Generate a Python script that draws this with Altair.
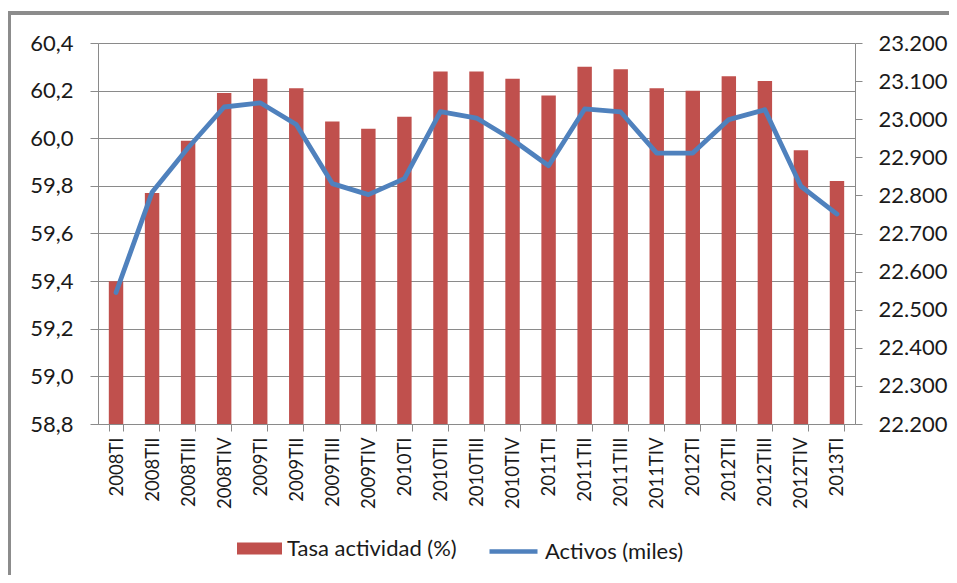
import altair as alt
import pandas as pd

periodos = ["2008TI", "2008TII", "2008TIII", "2008TIV",
            "2009TI", "2009TII", "2009TIII", "2009TIV",
            "2010TI", "2010TII", "2010TIII", "2010TIV",
            "2011TI", "2011TII", "2011TIII", "2011TIV",
            "2012TI", "2012TII", "2012TIII", "2012TIV",
            "2013TI"]
tasa = [59.40, 59.77, 59.99, 60.19, 60.25, 60.21, 60.07, 60.04, 60.09, 60.28,
        60.28, 60.25, 60.18, 60.30, 60.29, 60.21, 60.20, 60.26, 60.24, 59.95, 59.82]
activos = [22545, 22808, 22925, 23032, 23043, 22986, 22831, 22802, 22844, 23020,
           23003, 22946, 22878, 23027, 23019, 22911, 22911, 22999, 23025, 22824, 22751]
serie_barras = "Tasa actividad (%)"
serie_linea = "Activos (miles)"

df = pd.DataFrame({
    "periodo": periodos,
    "tasa": tasa,
    "activos": activos,
    "s1": [serie_barras] * len(periodos),
    "s2": [serie_linea] * len(periodos),
})

FONT = "Lato"
GRID = "#8a8a8a"
TXT = "#1a1a1a"
W, H = 757, 381

x_enc = alt.X(
    "periodo:N", sort=periodos,
    scale=alt.Scale(paddingInner=0.6, paddingOuter=0.3),
    axis=alt.Axis(title=None, labelAngle=270, labelAlign="right", labelBaseline="middle",
                  labelFont=FONT, labelFontSize=18.5, labelColor=TXT, labelPadding=6,
                  tickBand="extent", tickSize=7, tickColor=GRID, domainColor=GRID,
                  grid=False, labelLimit=0),
)

bars = alt.Chart(df).mark_bar(color="#C0504D").encode(
    x=x_enc,
    y=alt.Y("tasa:Q",
            scale=alt.Scale(domain=[58.8, 60.4], zero=False, nice=False),
            axis=alt.Axis(title=None, values=[58.8, 59.0, 59.2, 59.4, 59.6, 59.8, 60.0, 60.2, 60.4],
                          labelExpr="replace(format(datum.value, '.1f'), '.', ',')",
                          labelFont=FONT, labelFontSize=22, labelColor=TXT, labelPadding=17,
                          tickSize=8, tickColor=GRID, domainColor=GRID,
                          grid=True, gridColor=GRID, gridWidth=1, gridOpacity=1)),
    y2=alt.Y2(datum=58.8),
    fill=alt.Fill("s1:N", scale=alt.Scale(range=["#C0504D"]),
                  legend=alt.Legend(title=None, orient="none", legendX=139, legendY=483,
                                    symbolType="M-1,-0.27H1V0.27H-1Z", symbolSize=2025,
                                    symbolStrokeWidth=0, labelFont=FONT, labelFontSize=22,
                                    labelColor=TXT, labelOffset=5, labelLimit=0, padding=0)),
)

line = alt.Chart(df).mark_line(strokeWidth=4.8, strokeJoin="round", strokeCap="round").encode(
    x=x_enc,
    y=alt.Y("activos:Q",
            scale=alt.Scale(domain=[22200, 23200], zero=False, nice=False),
            axis=alt.Axis(title=None, orient="right",
                          values=list(range(22200, 23201, 100)),
                          labelExpr="replace(format(datum.value, ',.0f'), ',', '.')",
                          labelFont=FONT, labelFontSize=22, labelColor=TXT, labelPadding=16,
                          tickSize=7, tickColor=GRID, domainColor=GRID, grid=False)),
    stroke=alt.Stroke("s2:N", scale=alt.Scale(range=["#4F81BD"]),
                      legend=alt.Legend(title=None, orient="none", legendX=389, legendY=482,
                                        symbolType="stroke", symbolSize=2304,
                                        symbolStrokeWidth=4.5, labelFont=FONT, labelFontSize=22,
                                        labelColor=TXT, labelOffset=5, labelLimit=0, padding=0)),
)

frame_top = alt.Chart(df).mark_rule(color="#8c8c8c", strokeWidth=2.5).encode(
    x=alt.value(-90), x2=alt.value(W + 300), y=alt.value(-30)
)
frame_left = alt.Chart(df).mark_rule(color="#8c8c8c", strokeWidth=2.5).encode(
    x=alt.value(-89), y=alt.value(-31), y2=alt.value(H + 300)
)

chart = alt.layer(frame_top, frame_left, bars, line).resolve_scale(y="independent").properties(
    width=W, height=H,
    autosize=alt.AutoSizeParams(type="none"),
    padding={"left": 90, "top": 35, "right": 94, "bottom": 151},
).configure_view(stroke=None)

chart.save("out.html", embed_options={"renderer": "svg", "actions": False})
